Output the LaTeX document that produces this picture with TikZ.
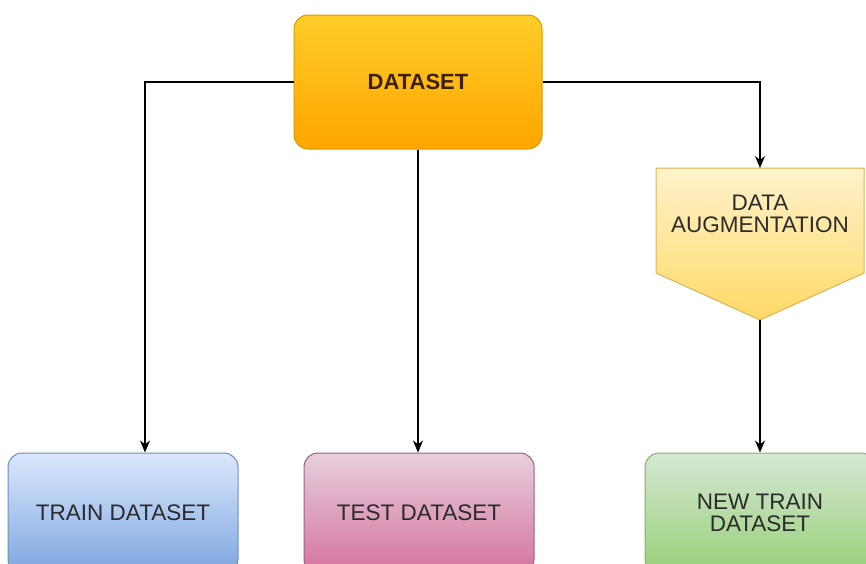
\documentclass[tikz,border=0pt]{standalone}
\usepackage{fontspec}
\setmainfont{Liberation Sans}
\usetikzlibrary{arrows.meta}

\definecolor{orTop}{HTML}{FFCD28}
\definecolor{orBot}{HTML}{FFA500}
\definecolor{orLine}{HTML}{D79B00}
\definecolor{blTop}{HTML}{DAE8FC}
\definecolor{blBot}{HTML}{7EA6E0}
\definecolor{blLine}{HTML}{6C8EBF}
\definecolor{pkTop}{HTML}{E6D0DE}
\definecolor{pkBot}{HTML}{D5739D}
\definecolor{pkLine}{HTML}{996185}
\definecolor{grTop}{HTML}{D5E8D4}
\definecolor{grBot}{HTML}{97D077}
\definecolor{grLine}{HTML}{82B366}
\definecolor{ylTop}{HTML}{FFF2CC}
\definecolor{ylBot}{HTML}{FFD966}
\definecolor{ylLine}{HTML}{D6B656}
\definecolor{txt}{HTML}{2B2B2B}
\definecolor{dsTxt}{HTML}{3A2000}

\begin{document}
\begin{tikzpicture}[x=1pt,y=-1pt,
  every node/.style={font=\fontsize{22.5}{22.5}\selectfont, text=txt, align=center},
  box/.style={rounded corners=14pt, line width=1pt, inner sep=0pt,
    minimum width=230pt, minimum height=120pt},
  conn/.style={line width=1.7pt, -{Stealth[length=12pt,width=10pt]}}
]
\clip (0,0) rectangle (866,563);
\fill[white] (0,0) rectangle (866,563);

% source box
\node[box, minimum width=248pt, minimum height=134pt,
      top color=orTop, bottom color=orBot, draw=orLine,
      font=\fontsize{22}{22}\selectfont\bfseries, text=dsTxt]
      (ds) at (418,82) {DATASET};

% augmentation block (pentagon pointing down)
\coordinate (augtop) at (760,168);
\coordinate (augtip) at (760,320);
\path[top color=ylTop, bottom color=ylBot, draw=ylLine, line width=1pt]
  (656,168) -- (864,168) -- (864,273) -- (augtip) -- (656,273) -- cycle;
\node (aug) at (760,214) {DATA\\AUGMENTATION};

% resulting datasets
\node[box, top color=blTop, bottom color=blBot, draw=blLine] (trn) at (123,513) {TRAIN DATASET};
\node[box, top color=pkTop, bottom color=pkBot, draw=pkLine] (tst) at (419,513) {TEST DATASET};
\node[box, top color=grTop, bottom color=grBot, draw=grLine] (ntr) at (760,513) {NEW TRAIN\\DATASET};

% connectors
\draw[conn] (ds.west) -| ([xshift=22pt]trn.north);
\draw[conn] (ds.south) -- (ds.south |- tst.north);
\draw[conn] (ds.east) -| (augtop);
\draw[conn] (augtip) -- (ntr.north);
\end{tikzpicture}
\end{document}
